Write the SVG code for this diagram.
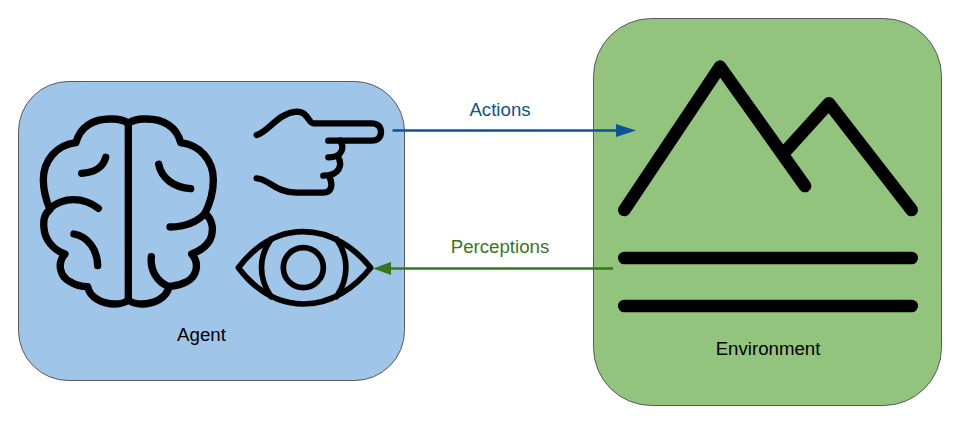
<svg xmlns="http://www.w3.org/2000/svg" width="960" height="424" viewBox="0 0 960 424">
<style>
.box{stroke:#595959;stroke-width:1}
.ic{fill:none;stroke:#000;stroke-linecap:round;stroke-linejoin:round}
text{font-family:"Liberation Sans",Arial,sans-serif;font-size:18.67px;text-anchor:middle}
</style>
<rect width="960" height="424" fill="#fff"/>
<g id="agent">
<rect class="box" x="18.5" y="81.5" width="386" height="299" rx="50" fill="#9fc5e8"/>
<g id="brain" transform="translate(20,100) scale(.33333)" class="ic" stroke-width="22">
<path d="M325 70V600"/>
<path d="M325 70C305 55 285 57 270 57C220 57 180 80 168 128C110 135 70 180 70 240C70 275 78 300 90 328C70 345 70 365 72 385C75 420 100 450 135 462C110 490 120 530 150 545C170 558 185 560 203 560C210 595 250 612 285 612C305 612 315 608 325 600"/>
<path d="M325 70C345 55 365 57 380 57C430 57 470 80 482 128C540 135 580 180 580 240C580 275 570 310 555 340C580 360 582 395 570 420C555 445 535 455 515 462C540 490 530 530 500 545C480 555 465 558 447 560C440 595 400 612 365 612C345 612 335 608 325 600"/>
<path d="M257 172C250 200 225 218 185 220"/>
<path d="M90 325C130 290 190 290 235 325"/>
<path d="M162 402C205 410 232 450 233 497"/>
<path d="M416 193C425 235 460 262 512 266"/>
<path d="M555 340C530 368 495 380 450 381"/>
<path d="M394 470C390 510 410 545 447 560"/>
</g>
<g id="hand" transform="translate(225,100) scale(.33333)" class="ic" stroke-width="19">
<path d="M95 105C130 95 160 38 215 35C250 35 250 70 265 70H440C460 70 468 82 468 96C468 110 460 122 440 122H310"/>
<path d="M345 122C358 140 355 172 310 172"/>
<path d="M340 172C352 195 345 227 295 227"/>
<path d="M312 227C325 255 320 278 295 278H215C150 278 130 235 95 235"/>
</g>
<g id="eye" transform="translate(225,100) scale(.33333)" class="ic" stroke-width="17">
<path d="M40 503C85 445 150 395 235 395C320 395 390 445 437 503C390 562 320 612 235 612C150 612 85 562 40 503Z"/>
<circle cx="235" cy="503" r="60"/>
<path d="M138 418C100 470 100 535 138 590"/>
<path d="M335 418C372 470 372 535 335 590"/>
</g>
<text x="201.500" y="341">Agent</text>
</g>
<g id="environment">
<rect class="box" x="593.5" y="18.5" width="348" height="387" rx="58" fill="#93c47d"/>
<g id="mountains" transform="translate(600,50) scale(.33333)" class="ic" stroke-width="38">
<path d="M73 480L360 50L615 408"/>
<path d="M555 305L687 160L935 480"/>
<path d="M73 624H935"/>
<path d="M73 768H935"/>
</g>
<text x="768" y="355">Environment</text>
</g>
<g id="connectors">
<path d="M392.500 130.500H618" fill="none" stroke="#0b5394" stroke-width="2.670"/>
<path d="M636 130.500L616 124V137Z" fill="#0b5394"/>
<path d="M613 268.500H390" fill="none" stroke="#38761d" stroke-width="2.670"/>
<path d="M373 268.500L391 262V275Z" fill="#38761d"/>
<text x="500" y="116" fill="#0b5394">Actions</text>
<text x="500" y="253" fill="#38761d">Perceptions</text>
</g>
</svg>
